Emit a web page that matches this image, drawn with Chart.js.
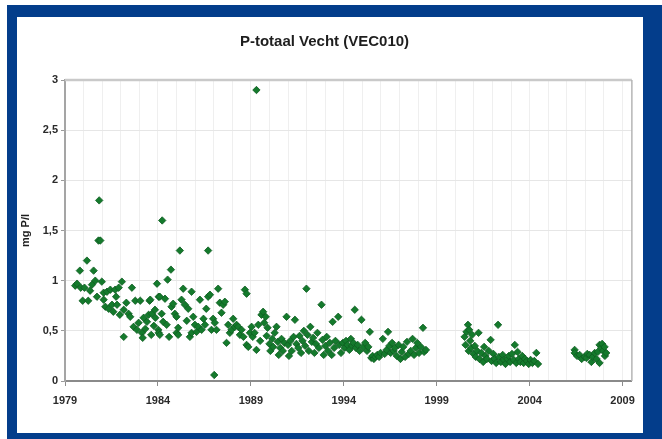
<!DOCTYPE html>
<html>
<head>
<meta charset="utf-8">
<title>P-totaal Vecht (VEC010)</title>
<script src="https://cdn.jsdelivr.net/npm/chart.js@4.4.1/dist/chart.umd.min.js"></script>
<style>
  html, body { margin: 0; padding: 0; background: #fff; }
  #frame { position: absolute; left: 7px; top: 5px; width: 655px; height: 434px; background: #033d8b; }
  #panel { position: absolute; left: 10px; top: 12px; width: 626px; height: 416px; background: #fff; }
</style>
</head>
<body>
<div id="frame">
  <div id="panel">
    <canvas id="pChart" width="626" height="416"></canvas>
  </div>
</div>
<script>
// Measurements P-totaal (mg P/l), Vecht station VEC010
// sample dates as decimal years, read off the original chart
const sampleYears = [
    1979.55, 1979.65, 1979.8, 1979.85, 1979.95, 1980.05, 1980.18, 1980.25, 1980.35, 1980.45, 1980.54, 1980.63, 1980.72, 1980.8, 1980.84, 1980.9, 1980.98,
    1981.08, 1981.08, 1981.17, 1981.26, 1981.35, 1981.44, 1981.53, 1981.6, 1981.7, 1981.75, 1981.8, 1981.89, 1981.95, 1982.06, 1982.16, 1982.16, 1982.3, 1982.42, 1982.51, 1982.6, 1982.69, 1982.78, 1982.87, 1982.96, 1983.05, 1983.14, 1983.18, 1983.23, 1983.32, 1983.41, 1983.5, 1983.55, 1983.59, 1983.64, 1983.68, 1983.78, 1983.84, 1983.86, 1983.95,
    1984.02, 1984.04, 1984.04, 1984.1, 1984.1, 1984.2, 1984.23, 1984.28, 1984.38, 1984.47, 1984.52, 1984.6, 1984.7, 1984.73, 1984.82, 1984.91, 1985.0, 1985.0, 1985.09, 1985.09, 1985.18, 1985.27, 1985.36, 1985.45, 1985.55, 1985.63, 1985.72, 1985.81, 1985.81, 1985.9, 1985.99, 1986.08, 1986.17, 1986.26, 1986.35, 1986.45, 1986.53, 1986.6, 1986.7, 1986.7, 1986.8, 1986.88, 1986.97, 1987.03, 1987.06, 1987.15, 1987.24, 1987.33, 1987.42, 1987.51, 1987.6, 1987.69, 1987.78, 1987.87, 1987.96, 1988.05, 1988.14, 1988.23, 1988.32, 1988.41, 1988.5, 1988.6, 1988.68, 1988.77, 1988.77, 1988.86, 1988.95,
    1989.04, 1989.1, 1989.2, 1989.3, 1989.3, 1989.4, 1989.5, 1989.57, 1989.66, 1989.72, 1989.8, 1989.85, 1989.9, 1990.0, 1990.05, 1990.15, 1990.2, 1990.28, 1990.38, 1990.45, 1990.5, 1990.58, 1990.65, 1990.72, 1990.8, 1990.92, 1991.0, 1991.05, 1991.12, 1991.2, 1991.3, 1991.37, 1991.45, 1991.55, 1991.62, 1991.7, 1991.78, 1991.85, 1991.92, 1991.99, 1992.05, 1992.12, 1992.2, 1992.28, 1992.35, 1992.42, 1992.5, 1992.58, 1992.66, 1992.8, 1992.85, 1992.92, 1993.0, 1993.08, 1993.15, 1993.25, 1993.35, 1993.4, 1993.48, 1993.55, 1993.7, 1993.75, 1993.85, 1993.95,
    1994.05, 1994.12, 1994.2, 1994.3, 1994.38, 1994.45, 1994.52, 1994.59, 1994.65, 1994.75, 1994.85, 1994.95, 1995.05, 1995.15, 1995.25, 1995.32, 1995.4, 1995.48, 1995.55, 1995.62, 1995.7, 1995.8, 1995.9, 1995.98, 1996.1, 1996.2, 1996.3, 1996.38, 1996.45, 1996.52, 1996.6, 1996.68, 1996.75, 1996.85, 1996.95, 1997.05, 1997.12, 1997.2, 1997.3, 1997.4, 1997.5, 1997.6, 1997.7, 1997.78, 1997.88, 1997.95, 1998.05, 1998.15, 1998.26, 1998.32, 1998.42,
    2000.5, 2000.55, 2000.6, 2000.68, 2000.72, 2000.75, 2000.8, 2000.85, 2000.9, 2000.98, 2001.05, 2001.1, 2001.18, 2001.25, 2001.3, 2001.4, 2001.5, 2001.55, 2001.62, 2001.7, 2001.8, 2001.9, 2001.95, 2002.05, 2002.12, 2002.2, 2002.3, 2002.35, 2002.45, 2002.55, 2002.62, 2002.7, 2002.8, 2002.88, 2002.95, 2003.05, 2003.15, 2003.2, 2003.28, 2003.35, 2003.42, 2003.5, 2003.6, 2003.68, 2003.75, 2003.85, 2003.95, 2004.05, 2004.15, 2004.25, 2004.36, 2004.45,
    2006.42, 2006.42, 2006.55, 2006.69, 2006.8, 2006.96, 2007.05, 2007.1, 2007.23, 2007.32, 2007.4, 2007.5, 2007.6, 2007.67, 2007.76, 2007.76, 2007.85, 2007.9, 2007.95, 2008.03, 2008.05, 2008.12
];

const pTotaal = [
    0.95, 0.97, 1.10, 0.93, 0.80, 0.93, 1.20, 0.80, 0.90, 0.96, 1.10, 1.00, 0.84, 1.40, 1.80, 1.40, 0.99,
    0.88, 0.81, 0.74, 0.89, 0.72, 0.91, 0.76, 0.69, 0.91, 0.84, 0.76, 0.93, 0.66, 0.99, 0.71, 0.44, 0.78, 0.67, 0.64, 0.93, 0.54, 0.80, 0.51, 0.58, 0.80, 0.48, 0.43, 0.63, 0.52, 0.59, 0.66, 0.80, 0.81, 0.46, 0.67, 0.55, 0.71, 0.63, 0.97,
    0.51, 0.48, 0.84, 0.46, 0.84, 0.67, 1.60, 0.59, 0.82, 0.56, 1.01, 0.44, 1.11, 0.74, 0.77, 0.67, 0.64, 0.48, 0.53, 0.46, 1.30, 0.81, 0.92, 0.76, 0.60, 0.72, 0.44, 0.89, 0.48, 0.64, 0.56, 0.49, 0.54, 0.81, 0.51, 0.62, 0.56, 0.72, 1.30, 0.84, 0.86, 0.51, 0.62, 0.06, 0.58, 0.51, 0.92, 0.78, 0.68, 0.76, 0.79, 0.38, 0.56, 0.48, 0.51, 0.62, 0.54, 0.56, 0.54, 0.46, 0.51, 0.44, 0.91, 0.87, 0.36, 0.34, 0.48,
    0.54, 0.44, 0.48, 2.90, 0.31, 0.56, 0.40, 0.66, 0.69, 0.58, 0.64, 0.45, 0.53, 0.37, 0.30, 0.42, 0.34, 0.48, 0.54, 0.39, 0.26, 0.33, 0.42, 0.30, 0.38, 0.64, 0.36, 0.25, 0.40, 0.30, 0.44, 0.61, 0.37, 0.33, 0.45, 0.28, 0.40, 0.50, 0.35, 0.92, 0.46, 0.30, 0.54, 0.39, 0.43, 0.28, 0.37, 0.48, 0.33, 0.76, 0.41, 0.26, 0.35, 0.44, 0.30, 0.38, 0.26, 0.59, 0.33, 0.40, 0.64, 0.36, 0.28, 0.38,
    0.33, 0.40, 0.36, 0.31, 0.42, 0.35, 0.38, 0.71, 0.33, 0.36, 0.30, 0.61, 0.34, 0.38, 0.30, 0.34, 0.49, 0.23, 0.25, 0.22, 0.24, 0.26, 0.24, 0.28, 0.42, 0.27, 0.31, 0.49, 0.35, 0.28, 0.38, 0.30, 0.33, 0.25, 0.36, 0.22, 0.29, 0.34, 0.24, 0.39, 0.27, 0.30, 0.42, 0.26, 0.33, 0.38, 0.28, 0.34, 0.53, 0.29, 0.31,
    0.44, 0.36, 0.49, 0.56, 0.30, 0.51, 0.40, 0.33, 0.46, 0.27, 0.35, 0.24, 0.30, 0.48, 0.22, 0.28, 0.19, 0.34, 0.25, 0.22, 0.30, 0.41, 0.20, 0.27, 0.22, 0.18, 0.56, 0.24, 0.19, 0.26, 0.21, 0.17, 0.22, 0.25, 0.19, 0.27, 0.21, 0.36, 0.18, 0.29, 0.22, 0.19, 0.25, 0.18, 0.22, 0.20, 0.17, 0.21, 0.18, 0.20, 0.28, 0.17,
    0.31, 0.28, 0.25, 0.26, 0.22, 0.24, 0.23, 0.27, 0.26, 0.19, 0.24, 0.28, 0.22, 0.29, 0.36, 0.18, 0.33, 0.37, 0.30, 0.34, 0.25, 0.28
];

// Axis ticks
const xLabelYears = [1979, 1984, 1989, 1994, 1999, 2004, 2009];
const xGridYears = [];
for (let yr = 1979; yr <= 2009; yr++) xGridYears.push(yr);
const yTicks = [0, 0.5, 1, 1.5, 2, 2.5, 3];
const xMin = 1979;
const xMax = 2009.5;

const points = sampleYears.map((yr, i) => ({ x: yr, y: pTotaal[i] }));

const labelFont = { family: 'Liberation Sans, Arial, sans-serif', size: 11, weight: 'bold' };

// frame round the plot area (top and right side)
const plotFrame = {
    id: 'plotFrame',
    beforeDatasetsDraw(chart) {
        const { ctx, chartArea: a } = chart;
        ctx.save();
        ctx.strokeStyle = '#c9c9c9';
        ctx.lineWidth = 2.5;
        ctx.beginPath();
        ctx.moveTo(a.left, a.top);
        ctx.lineTo(a.right, a.top);
        ctx.stroke();
        ctx.strokeStyle = '#b5b5b5';
        ctx.lineWidth = 1.5;
        ctx.beginPath();
        ctx.moveTo(a.right, a.top);
        ctx.lineTo(a.right, a.bottom);
        ctx.stroke();
        ctx.restore();
    }
};

new Chart(document.getElementById('pChart'), {
    type: 'scatter',
    data: {
        datasets: [{
            label: 'P-totaal',
            data: points,
            pointStyle: 'rectRot',
            pointRadius: 3.7,
            backgroundColor: '#147a2c',
            borderColor: '#0e5c21',
            borderWidth: 0.8
        }]
    },
    options: {
        responsive: false,
        animation: false,
        layout: { padding: { left: 0, right: 11, top: 0, bottom: 0 } },
        plugins: {
            legend: { display: false },
            tooltip: { enabled: false },
            title: {
                display: true,
                text: 'P-totaal Vecht (VEC010)',
                color: '#1e1e1e',
                font: { family: 'Liberation Sans, Arial, sans-serif', size: 15, weight: 'bold' },
                padding: { top: 16, bottom: 29 }
            }
        },
        scales: {
            x: {
                type: 'linear',
                min: xMin,
                max: xMax,
                afterBuildTicks: (axis) => { axis.ticks = xGridYears.map(v => ({ value: v })); },
                afterFit: (axis) => { axis.height = 52; },
                ticks: {
                    autoSkip: false,
                    maxRotation: 0,
                    padding: 8,
                    color: '#2a2a2a',
                    font: labelFont,
                    callback: (value) => xLabelYears.includes(value) ? String(value) : ''
                },
                grid: {
                    color: '#efefef',
                    lineWidth: 1,
                    tickLength: 5,
                    tickColor: (ctx) => (ctx.tick && xLabelYears.includes(ctx.tick.value)) ? '#8c8c8c' : 'rgba(0,0,0,0)'
                },
                border: { color: '#8a8a8a', width: 2 }
            },
            y: {
                min: 0,
                max: 3,
                afterBuildTicks: (axis) => { axis.ticks = yTicks.map(v => ({ value: v })); },
                afterFit: (axis) => { axis.width = 48; },
                ticks: {
                    padding: 3,
                    color: '#2a2a2a',
                    font: labelFont,
                    callback: (value) => String(value).replace('.', ',')
                },
                grid: {
                    color: '#e6e6e6',
                    lineWidth: 1,
                    tickLength: 4,
                    tickColor: '#9a9a9a'
                },
                border: { color: '#a5a5a5', width: 2 },
                title: {
                    display: true,
                    text: 'mg P/l',
                    color: '#1e1e1e',
                    font: { family: 'Liberation Sans, Arial, sans-serif', size: 11, weight: 'bold' },
                    padding: { top: 2, bottom: 0 }
                }
            }
        }
    },
    plugins: [plotFrame]
});
</script>
</body>
</html>
